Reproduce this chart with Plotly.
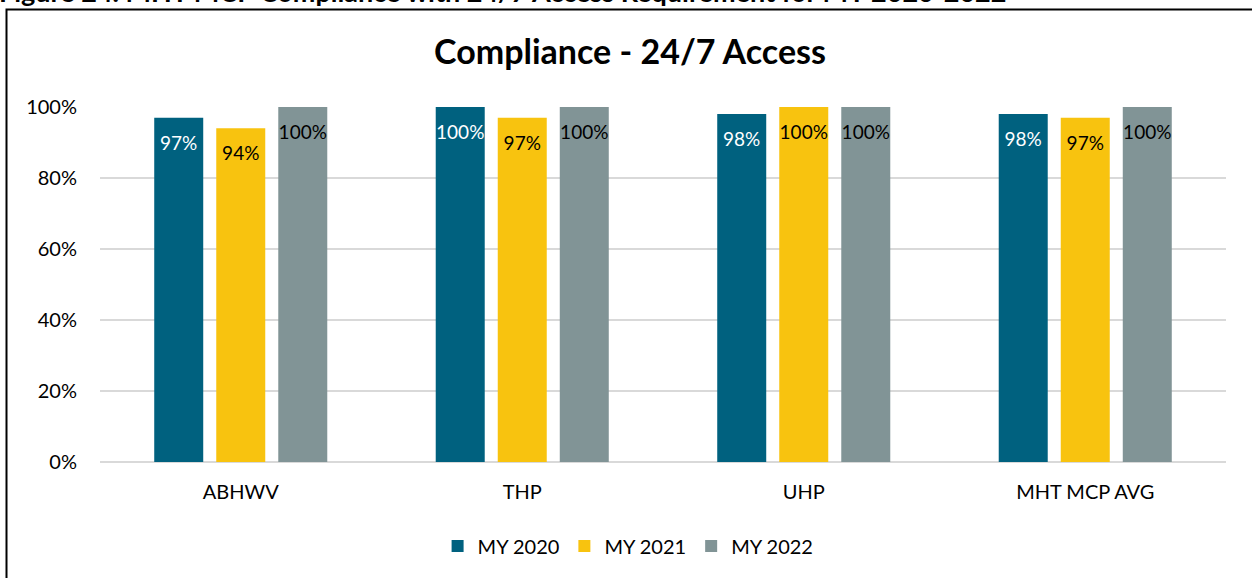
import plotly.graph_objects as go

categories = ["ABHWV", "THP", "UHP", "MHT MCP AVG"]
series_names = ["MY 2020", "MY 2021", "MY 2022"]
my2020 = [0.97, 1.00, 0.98, 0.98]
my2021 = [0.94, 0.97, 1.00, 0.97]
my2022 = [1.00, 1.00, 1.00, 1.00]
y_ticks = [0, 0.2, 0.4, 0.6, 0.8, 1.0]
y_tick_labels = ["0%", "20%", "40%", "60%", "80%", "100%"]

title_text = "Compliance - 24/7 Access"
caption_text = "Figure 24. MHT MCP Compliance with 24/7 Access Requirement for MY 2020-2022"

colors = ["#00617F", "#F8C30F", "#819496"]
label_colors = ["#FFFFFF", "#000000", "#000000"]
FONT = "Lato"

W, H = 1252, 578
L, R, T, B = 100, 26, 107, 116
BARGAP = 0.339

fig = go.Figure()
for name, vals, col in zip(series_names, [my2020, my2021, my2022], colors):
    fig.add_trace(go.Bar(
        x=categories, y=vals, name=name, offsetgroup=name,
        marker=dict(color=col, line=dict(width=0)),
        hoverinfo="x+y+name",
    ))

# data labels, placed just inside the top of each bar
for name, vals, lcol in zip(series_names, [my2020, my2021, my2022], label_colors):
    fig.add_trace(go.Scatter(
        x=categories, y=vals, name=name, mode="markers+text",
        offsetgroup=name,
        marker=dict(size=27, color="rgba(0,0,0,0)"),
        text=[f"{round(v*100)}%" for v in vals],
        textposition="bottom center",
        textfont=dict(family=FONT, size=19, color=lcol),
        showlegend=False, hoverinfo="skip", cliponaxis=False,
    ))

fig.update_layout(
    width=W, height=H,
    margin=dict(l=L, r=R, t=T, b=B, pad=0),
    paper_bgcolor="white", plot_bgcolor="white",
    barmode="group", bargap=BARGAP, bargroupgap=0.21,
    scattermode="group", scattergap=BARGAP,
    font=dict(family=FONT, size=20, color="#000000"),
    title=dict(text=title_text, x=630 / W, xanchor="center", xref="container",
               y=1 - 52 / H, yanchor="middle", yref="container",
               font=dict(family=FONT, size=34, color="#000000", weight="bold")),
    showlegend=True,
    legend=dict(orientation="h", x=0.469, xanchor="center", y=(462 - 546) / 355, yanchor="middle",
                font=dict(family=FONT, size=20, color="#000000"), traceorder="normal",
                itemwidth=30),
    xaxis=dict(showgrid=False, showline=False, ticks="", tickfont=dict(family=FONT, size=20),
               ticklabelstandoff=16),
    yaxis=dict(range=[0, 1.0], tickvals=y_ticks, ticktext=y_tick_labels,
               showgrid=True, gridcolor="#D9D9D9", gridwidth=1.5,
               zeroline=True, zerolinecolor="#D9D9D9", zerolinewidth=1.5,
               showline=False, ticks="", tickfont=dict(family=FONT, size=20),
               ticklabelstandoff=22),
)

# chart frame
fig.add_shape(type="rect", xref="paper", yref="paper",
              x0=(6.5 - L) / 1126, x1=1.1, y0=-0.5, y1=(462 - 9.5) / 355,
              line=dict(color="#000000", width=2), fillcolor="rgba(0,0,0,0)", layer="above")

# caption (partly cut at the top of the page)
fig.add_annotation(text=caption_text, xref="paper", yref="paper",
                   x=(-3 - L) / 1126, xanchor="left", y=(462 - 10) / 355, yanchor="bottom",
                   showarrow=False, font=dict(family=FONT, size=27, color="#000000", weight="bold"))

fig.write_html("out.html", config={"displayModeBar": False},
               post_script="document.body.style.margin='0';")
